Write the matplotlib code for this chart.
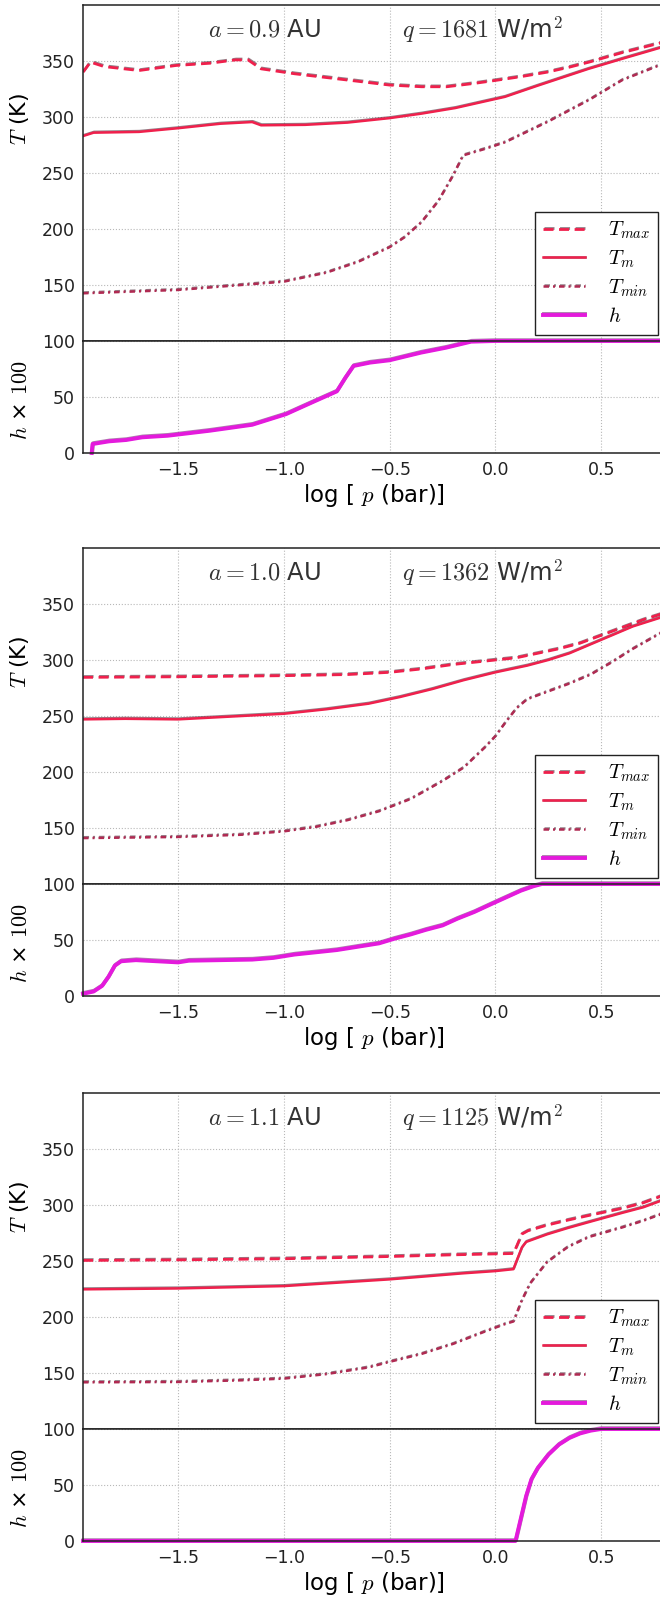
import matplotlib.pyplot as plt
import matplotlib.patheffects as pe

plt.rcParams['font.family'] = 'DejaVu Sans'
plt.rcParams['mathtext.fontset'] = 'cm'

# ---- a = 0.9 AU ----
lp09_tmax = [-1.95, -1.915, -1.85, -1.685, -1.51, -1.35, -1.228, -1.17, -1.108, -0.95, -0.7, -0.5,
             -0.35, -0.23, -0.1, 0.006, 0.12, 0.244, 0.35, 0.443, 0.6, 0.8]
tmax09 = [340, 349, 345, 341.5, 346, 348, 351, 351, 343, 338.6, 333, 328.5,
          327, 327, 330, 332.8, 336, 340, 344.5, 349, 357.5, 367]
lp09_tm = [-1.95, -1.9, -1.685, -1.5, -1.3, -1.15, -1.108, -0.9, -0.7, -0.5, -0.35, -0.19,
           0.045, 0.2, 0.44, 0.6, 0.8]
tm09 = [283, 286, 286.7, 290, 294, 295.5, 292.6, 293, 295, 299, 303, 308,
        318, 328, 343, 352, 363]
lp09_tmin = [-1.95, -1.5, -1.0, -0.8, -0.65, -0.5, -0.43, -0.35, -0.27, -0.2, -0.153, -0.05,
             0.045, 0.25, 0.443, 0.6, 0.8]
tmin09 = [142.6, 145.6, 153, 161, 170.6, 183.8, 192.6, 206, 225, 248, 265.7, 271.5,
          277.4, 296, 315.3, 333, 348]
lp09_h = [-1.909, -1.905, -1.827, -1.746, -1.67, -1.55, -1.35, -1.15, -0.99, -0.85, -0.75,
          -0.71, -0.671, -0.593, -0.5, -0.352, -0.234, -0.115, 0.0, 0.8]
h09 = [0, 8, 10.4, 11.6, 14, 15.4, 19.9, 25.2, 34.7, 46.6, 55,
       67, 77.7, 80.7, 82.8, 89.6, 94, 99.4, 100, 100]

# ---- a = 1.0 AU ----
lp10_tmax = [-1.95, -1.5, -1.0, -0.7, -0.5, -0.35, -0.2, -0.05, 0.1, 0.2, 0.3, 0.4, 0.5, 0.6, 0.7, 0.8]
tmax10 = [284.5, 285, 286, 287, 289, 292, 296, 299, 302, 306, 310, 315, 322, 329, 336, 342]
lp10_tm = [-1.95, -1.75, -1.5, -1.3, -1.0, -0.8, -0.6, -0.45, -0.3, -0.15, 0.0, 0.15, 0.25, 0.35,
           0.45, 0.55, 0.65, 0.8]
tm10 = [247, 247.5, 247, 249, 252, 256, 261, 267, 274, 282, 289, 295, 300, 306,
        314, 322, 330, 339]
lp10_tmin = [-1.95, -1.5, -1.2, -1.0, -0.85, -0.7, -0.55, -0.4, -0.25, -0.15, -0.05, 0.0, 0.05,
             0.1, 0.15, 0.25, 0.35, 0.45, 0.55, 0.65, 0.8]
tmin10 = [141, 142, 144, 147, 151, 157, 165, 176, 192, 204, 222, 232, 245,
          257, 265, 272, 279, 287, 298, 310, 326]
lp10_h = [-1.95, -1.9, -1.86, -1.83, -1.8, -1.77, -1.7, -1.6, -1.5, -1.45, -1.3, -1.15, -1.05,
          -0.95, -0.85, -0.75, -0.65, -0.55, -0.48, -0.4, -0.33, -0.25, -0.18, -0.1, -0.02,
          0.05, 0.12, 0.18, 0.22, 0.8]
h10 = [2, 4, 9, 17, 27, 31, 32, 31, 30, 31.5, 32, 32.5, 34,
       37, 39, 41, 44, 47, 51, 55, 59, 63, 69, 75, 82,
       88, 94, 98, 100, 100]

# ---- a = 1.1 AU ----
lp11_tmax = [-1.95, -1.5, -1.0, -0.5, -0.2, 0.085, 0.1, 0.125, 0.154, 0.244, 0.343, 0.443, 0.6, 0.7, 0.8]
tmax11 = [250.5, 251, 252, 254, 255.5, 256.7, 263, 274, 277, 282, 286.5, 290.7, 297, 302, 309]
lp11_tm = [-1.95, -1.5, -1.0, -0.5, -0.153, 0.0, 0.085, 0.1, 0.125, 0.145, 0.244, 0.343, 0.443,
           0.6, 0.7, 0.8]
tm11 = [224.7, 225.5, 227.6, 233.6, 239, 241, 242.7, 250, 262, 267, 273.8, 279.5, 284.8,
        293, 298, 305]
lp11_tmin = [-1.95, -1.5, -1.2, -1.0, -0.8, -0.6, -0.5, -0.35, -0.2, -0.05, 0.05, 0.085, 0.125,
             0.164, 0.244, 0.343, 0.443, 0.6, 0.7, 0.8]
tmin11 = [141.7, 142, 143.5, 145, 149, 155, 160, 167, 176, 187, 194, 196, 215,
          230, 249, 262.6, 271.5, 280, 286, 293]
lp11_h = [-1.95, 0.095, 0.12, 0.145, 0.17, 0.2, 0.25, 0.3, 0.35, 0.4, 0.45, 0.5, 0.8]
h11 = [0, 0, 20, 40, 55, 65, 77, 86, 92, 96, 98.5, 100, 100]

panels = [
    ('0.9', '1681', lp09_tmax, tmax09, lp09_tm, tm09, lp09_tmin, tmin09, lp09_h, h09),
    ('1.0', '1362', lp10_tmax, tmax10, lp10_tm, tm10, lp10_tmin, tmin10, lp10_h, h10),
    ('1.1', '1125', lp11_tmax, tmax11, lp11_tm, tm11, lp11_tmin, tmin11, lp11_h, h11),
]
# pixel rows (top of T axes, T/h divider, bottom of h axes)
rows = [(5, 341, 453), (548, 884, 996), (1093, 1429, 1541)]

W, H = 660.0, 1597.0
LEFT, WIDTH = 83.0, 581.6
RED = '#f0204c'
MAROON = '#b02a52'
MAGENTA = '#e41adc'

fig = plt.figure(figsize=(W / 100, H / 100), dpi=100)


def shadow(col):
    return [pe.SimpleLineShadow(offset=(0.4, 0.6), shadow_color=col, alpha=0.55), pe.Normal()]


def style(ax):
    ax.set_xlim(-1.95, 0.8)
    ax.set_xticks([-1.5, -1.0, -0.5, 0.0, 0.5])
    ax.grid(True, ls=':', color='#b8b8b8', lw=0.8)
    ax.tick_params(length=0, labelsize=12.5, pad=6, colors='#222222')
    for s in ax.spines.values():
        s.set_color('#222222')
        s.set_linewidth(1.1)


for (a, q, xmx, tmx, xm, tm, xmn, tmn, xh, hh), (top, mid, bot) in zip(panels, rows):
    axT = fig.add_axes([LEFT / W, 1 - mid / H, WIDTH / W, (mid - top) / H])
    axh = fig.add_axes([LEFT / W, 1 - bot / H, WIDTH / W, (bot - mid) / H], sharex=axT)

    l1, = axT.plot(xmx, tmx, color=RED, lw=2, ls=(0, (3.6, 2.0)),
                   path_effects=shadow('#3a1a28'), label=r'$T_{max}$')
    l2, = axT.plot(xm, tm, color=RED, lw=1.8, path_effects=shadow('#3a1a28'), label=r'$T_m$')
    l3, = axT.plot(xmn, tmn, color=MAROON, lw=1.8, ls=(0, (2.2, 1.6, 0.8, 1.6)),
                   path_effects=shadow('#3a1a28'), label=r'$T_{min}$')
    l4, = axh.plot(xh, hh, color=MAGENTA, lw=2.8, clip_on=False,
                   path_effects=shadow('#6a1a6a'), label=r'$h$')

    style(axT)
    style(axh)
    axT.set_ylim(100, 400)
    axT.set_yticks([150, 200, 250, 300, 350])
    axT.tick_params(labelbottom=False)
    axh.set_ylim(0, 100)
    axh.set_yticks([0, 50, 100])

    axT.set_ylabel(r'$T$ (K)', fontsize=16)
    axT.yaxis.set_label_coords(-0.09, 0.66)
    axh.set_ylabel(r'$h$ × $100$', fontsize=16)
    axh.yaxis.set_label_coords(-0.09, 0.47)
    axh.set_xlabel(r'log [ $p$ (bar)]', fontsize=16.5, labelpad=2)

    axT.text(-1.36, 378, r'$a = %s$ AU' % a, fontsize=17.5, color='#333333', va='center')
    axT.text(-0.44, 378, r'$q = %s$ W/m$^2$' % q, fontsize=17.5, color='#333333', va='center')

    leg = axT.legend(handles=[l1, l2, l3, l4], loc='lower right', fontsize=15,
                     fancybox=False, framealpha=1, edgecolor='#222222',
                     borderaxespad=0.3, handlelength=2.0, handletextpad=1.1,
                     labelspacing=0.35)
    leg.get_frame().set_linewidth(1.0)

fig.savefig('out.png', dpi=100)
